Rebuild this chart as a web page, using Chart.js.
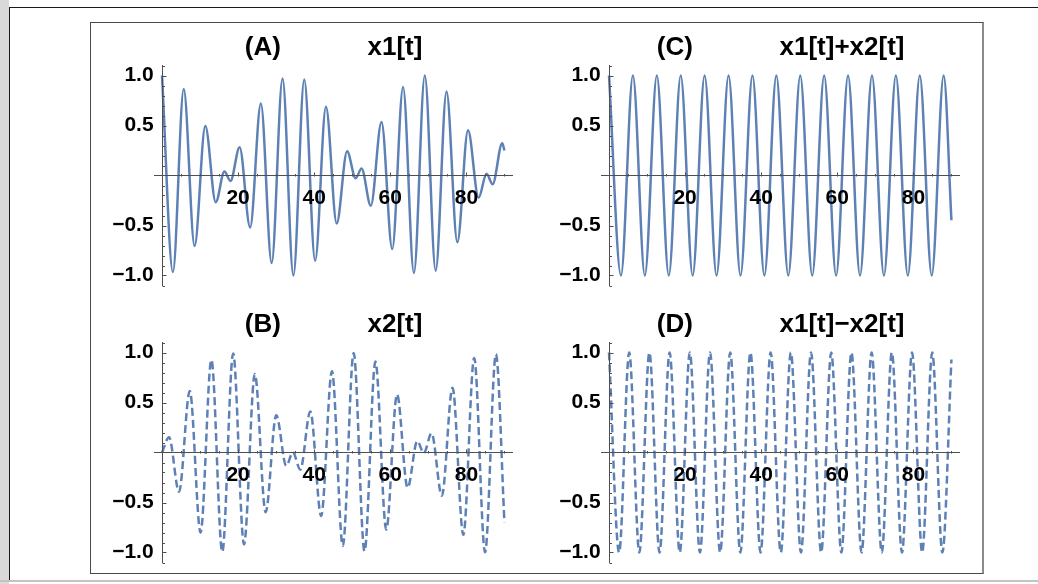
<!DOCTYPE html>
<html>
<head>
<meta charset="utf-8">
<script src="https://cdn.jsdelivr.net/npm/chart.js@4.4.1/dist/chart.umd.min.js"></script>
<style>
  html, body { margin: 0; padding: 0; background: #fff; }
  body { width: 1038px; height: 584px; position: relative; overflow: hidden; }
  .strip { position: absolute; left: 0; top: 0; width: 9px; height: 584px; background: #d9d9d9; }
  .vline { position: absolute; left: 9px; top: 7px; width: 1px; height: 574px; background: #1a1a1a; }
  .hline { position: absolute; left: 9px; top: 7px; width: 1029px; height: 1px; background: #1a1a1a; }
  .bline { position: absolute; left: 0; top: 580px; width: 1038px; height: 2px; background: #c4c4c4; }
  .frame { position: absolute; left: 90px; top: 22px; width: 891px; height: 550px;
           border: 1px solid #4a4a4a; border-right: 2px solid #8a8a8a; }
  canvas { position: absolute; }
</style>
</head>
<body>
<div class="strip"></div>
<div class="vline"></div>
<div class="hline"></div>
<div class="bline"></div>
<div class="frame"></div>
<canvas id="chartA" width="424" height="272" style="left:92px;top:23px"></canvas>
<canvas id="chartB" width="424" height="272" style="left:92px;top:300px"></canvas>
<canvas id="chartC" width="424" height="272" style="left:539px;top:23px"></canvas>
<canvas id="chartD" width="424" height="272" style="left:539px;top:300px"></canvas>
<script>
// x1[t]: turning points
const tA = [0, 2.86, 5.71, 8.56, 11.38, 14.12, 16.4, 18.0, 20.4, 23.16, 25.98, 28.82, 31.68, 34.53,
  37.39, 40.25, 43.09, 45.91, 48.65, 50.9, 52.45, 54.88, 57.69, 60.51, 63.36, 66.21, 69.07,
  71.93, 74.78, 77.62, 80.43, 83.2, 85.3, 86.9, 89.42, 90];
const yA = [1.0, -0.965, 0.864, -0.705, 0.495, -0.267, 0.039, -0.054, 0.283, -0.52, 0.72, -0.875,
  0.971, -1.0, 0.961, -0.853, 0.687, -0.48, 0.242, -0.028, 0.07, -0.302, 0.535, -0.736, 0.886,
  -0.976, 0.999, -0.953, 0.841, -0.668, 0.452, -0.222, 0.018, -0.087, 0.323, 0.25];

// x2[t]: turning points
const tB = [0, 1.85, 4.47, 7.3, 10.13, 12.98, 15.84, 18.7, 21.55, 24.4, 27.24, 30.03, 32.65, 34.4,
  36.35, 38.98, 41.83, 44.67, 47.52, 50.37, 53.23, 56.09, 58.94, 61.77, 64.55, 67.1, 68.8, 70.85,
  73.55, 76.36, 79.2, 82.05, 84.91, 87.76, 90];
const yB = [0, 0.152, -0.393, 0.616, -0.8, 0.927, -0.993, 0.99, -0.918, 0.784, -0.597, 0.373, -0.133,
  0.001, -0.171, 0.411, -0.634, 0.812, -0.935, 0.995, -0.987, 0.909, -0.771, 0.58, -0.353, 0.114,
  -0.006, 0.192, -0.432, 0.648, -0.823, 0.945, -0.997, 0.983, -0.698];

// x1[t]+x2[t]: turning points
const tC = [0, 3.14, 6.28, 9.42, 12.57, 15.71, 18.85, 21.99, 25.13, 28.27, 31.42, 34.56, 37.7, 40.84,
  43.98, 47.12, 50.27, 53.41, 56.55, 59.69, 62.83, 65.97, 69.12, 72.26, 75.4, 78.54, 81.68, 84.82,
  87.96, 90];
const yC = [1, -1, 1, -1, 1, -1, 1, -1, 1, -1, 1, -1, 1, -1, 1, -1, 1, -1, 1, -1, 1, -1, 1, -1, 1, -1,
  1, -1, 1, -0.448];

// x1[t]-x2[t]: turning points
const tD = [0, 2.66, 5.31, 7.97, 10.62, 13.28, 15.93, 18.59, 21.24, 23.9, 26.55, 29.21, 31.86, 34.52,
  37.17, 39.83, 42.48, 45.14, 47.79, 50.45, 53.1, 55.76, 58.41, 61.07, 63.72, 66.38, 69.03, 71.69,
  74.34, 77.0, 79.65, 82.31, 84.96, 87.62, 90];
const yD = [1, -1, 1, -1, 1, -1, 1, -1, 1, -1, 1, -1, 1, -1, 1, -1, 1, -1, 1, -1, 1, -1, 1, -1, 1, -1,
  1, -1, 1, -1, 1, -1, 1, -1, 0.93];

// axes
const xTicks = [20, 40, 60, 80];
const xTickLabels = ['20', '40', '60', '80'];
const xMinor = [5, 10, 15, 25, 30, 35, 45, 50, 55, 65, 70, 75, 85, 90];
const yTicks = [-1, -0.5, 0.5, 1];
const yTickLabels = ['\u22121.0', '\u22120.5', '0.5', '1.0'];
const yMinor = [-1.1, -0.9, -0.8, -0.7, -0.6, -0.4, -0.3, -0.2, -0.1, 0.1, 0.2, 0.3, 0.4, 0.6, 0.7, 0.8, 0.9, 1.1];

const tickFont = { family: "'Liberation Sans', Arial, sans-serif", weight: 'bold', size: 21 };
const titleFont = { family: "'Liberation Sans', Arial, sans-serif", weight: 'bold', size: 26 };
const axisColor = '#4f4f4f';

// Mathematica style ticks: pointing into the plot, minor ones shorter
const inwardTicks = {
  id: 'inwardTicks',
  afterDraw(chart) {
    const xs = chart.scales.x, ys = chart.scales.y, ctx = chart.ctx;
    const x0 = Math.round(xs.getPixelForValue(0)) + 0.5;
    const y0 = Math.round(ys.getPixelForValue(0)) + 0.5;
    ctx.save();
    ctx.strokeStyle = axisColor;
    ctx.lineWidth = 1;
    ctx.beginPath();
    xTicks.concat(xMinor).forEach(v => {
      const p = Math.round(xs.getPixelForValue(v)) + 0.5;
      const len = xTicks.includes(v) ? 4 : 2.5;
      ctx.moveTo(p, y0);
      ctx.lineTo(p, y0 - len);
    });
    yTicks.concat(yMinor).forEach(v => {
      const p = Math.round(ys.getPixelForValue(v)) + 0.5;
      const len = yTicks.includes(v) ? 4 : 2.5;
      ctx.moveTo(x0, p);
      ctx.lineTo(x0 + len, p);
    });
    ctx.stroke();
    ctx.restore();
  }
};

function makeChart(id, title, ts, vs, dashed) {
  return new Chart(document.getElementById(id), {
    type: 'line',
    data: {
      datasets: [{
        data: ts.map((t, i) => ({ x: t, y: vs[i] })),
        borderColor: '#5e81b5',
        borderWidth: 2.5,
        borderDash: dashed ? [8, 4] : [],
        pointRadius: 0,
        cubicInterpolationMode: 'monotone',
        fill: false
      }]
    },
    options: {
      responsive: false,
      animation: false,
      devicePixelRatio: 1,
      layout: { padding: { left: 62.4, right: 3.2, top: 0, bottom: 9.5 } },
      plugins: {
        legend: { display: false },
        tooltip: { enabled: false },
        title: {
          display: true,
          text: title,
          fullSize: false,
          color: '#000',
          font: titleFont,
          padding: { top: 8.9, bottom: 2.4 }
        }
      },
      scales: {
        x: {
          type: 'linear',
          min: -2,
          max: 92.2,
          position: { y: 0 },
          grid: { display: false, drawTicks: false },
          border: { display: true, color: axisColor, width: 1, z: 1 },
          ticks: {
            z: 1, padding: 10, color: '#000', font: tickFont,
            autoSkip: false, maxRotation: 0,
            callback: (v, i) => xTickLabels[i]
          },
          afterBuildTicks: s => { s.ticks = xTicks.map(v => ({ value: v })); },
          afterFit: s => { s.height = 0; s.paddingLeft = 0; s.paddingRight = 0; s.paddingTop = 0; s.paddingBottom = 0; }
        },
        y: {
          type: 'linear',
          min: -1.1,
          max: 1.1,
          position: { x: 0 },
          grid: { display: false, drawTicks: false },
          border: { display: true, color: axisColor, width: 1, z: 1 },
          ticks: {
            // labels sit right on a centred axis, so keep a small gap with thin spaces
            z: 1, color: '#000', font: tickFont,
            callback: (v, i) => yTickLabels[i] + '\u2009\u2009'
          },
          afterBuildTicks: s => { s.ticks = yTicks.map(v => ({ value: v })); },
          afterFit: s => { s.width = 0; s.paddingLeft = 0; s.paddingRight = 0; s.paddingTop = 0; s.paddingBottom = 0; }
        }
      }
    },
    plugins: [inwardTicks]
  });
}

makeChart('chartA', '(A)            x1[t]', tA, yA, false);
makeChart('chartB', '(B)            x2[t]', tB, yB, true);
makeChart('chartC', '(C)            x1[t]+x2[t]', tC, yC, false);
makeChart('chartD', '(D)            x1[t]\u2212x2[t]', tD, yD, true);
</script>
</body>
</html>
